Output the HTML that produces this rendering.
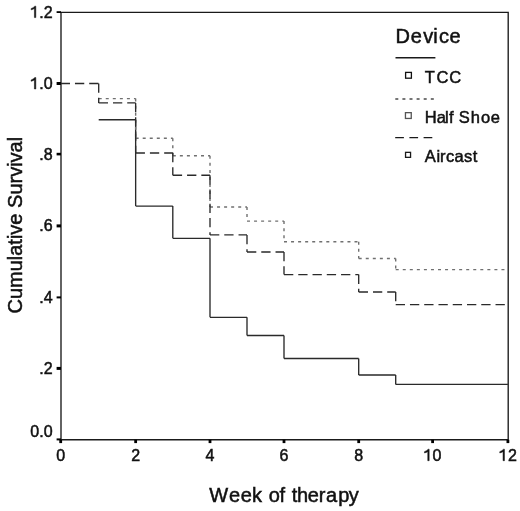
<!DOCTYPE html>
<html><head><meta charset="utf-8"><style>
html,body{margin:0;padding:0;background:#fff;width:520px;height:511px;overflow:hidden}
svg{display:block;filter:grayscale(1)}
text{font-family:"Liberation Sans",sans-serif;fill:#111;stroke:#111;stroke-width:0.5px}
</style></head><body>
<svg width="520" height="511" viewBox="0 0 520 511">
<rect width="520" height="511" fill="#fff"/>
<g fill="none" stroke="#1a1a1a" stroke-width="1.35"><path d="M61.0,12.4H508.2V439.7H61.0Z"/></g>
<g stroke="#000">
<line x1="56.6" y1="12.1" x2="61.0" y2="12.1" stroke-width="1.8"/>
<line x1="56.6" y1="83.5" x2="61.0" y2="83.5" stroke-width="3.0"/>
<line x1="56.6" y1="154.1" x2="61.0" y2="154.1" stroke-width="2.6"/>
<line x1="56.6" y1="225.9" x2="61.0" y2="225.9" stroke-width="3.0"/>
<line x1="56.6" y1="297.4" x2="61.0" y2="297.4" stroke-width="2.0"/>
<line x1="56.6" y1="368.4" x2="61.0" y2="368.4" stroke-width="3.0"/>
<line x1="56.6" y1="439.4" x2="61.0" y2="439.4" stroke-width="2.0"/>
</g>
<g stroke="#000" stroke-width="2.8">
<line x1="60.70" y1="439.7" x2="60.70" y2="443.1"/>
<line x1="135.65" y1="439.7" x2="135.65" y2="443.1"/>
<line x1="210.00" y1="439.7" x2="210.00" y2="443.1"/>
<line x1="284.00" y1="439.7" x2="284.00" y2="443.1"/>
<line x1="358.70" y1="439.7" x2="358.70" y2="443.1"/>
<line x1="432.60" y1="439.7" x2="432.60" y2="443.1"/>
<line x1="507.90" y1="439.7" x2="507.90" y2="443.1"/>
</g>
<g font-size="16" fill="#111">
<path transform="translate(30.36,17.60) scale(0.007812,-0.007812)" stroke="#111" stroke-width="64.0" d="M699,0L519,0L519,1160C430,1100 250,1040 100,990L100,1160C260,1220 470,1340 575,1466L699,1466Z"/><text x="39.26" y="17.60">.</text><text x="43.70" y="17.60">2</text>
<path transform="translate(30.36,89.00) scale(0.007812,-0.007812)" stroke="#111" stroke-width="64.0" d="M699,0L519,0L519,1160C430,1100 250,1040 100,990L100,1160C260,1220 470,1340 575,1466L699,1466Z"/><text x="39.26" y="89.00">.</text><text x="43.70" y="89.00">0</text>
<text x="39.26" y="159.60">.</text><text x="43.70" y="159.60">8</text>
<text x="39.26" y="231.40">.</text><text x="43.70" y="231.40">6</text>
<text x="39.26" y="302.90">.</text><text x="43.70" y="302.90">4</text>
<text x="39.26" y="373.90">.</text><text x="43.70" y="373.90">2</text>
<text x="30.36" y="436.60">0</text><text x="39.26" y="436.60">.</text><text x="43.70" y="436.60">0</text>
<text x="56.25" y="460.70">0</text>
<text x="131.20" y="460.70">2</text>
<text x="205.55" y="460.70">4</text>
<text x="279.55" y="460.70">6</text>
<text x="354.25" y="460.70">8</text>
<path transform="translate(423.70,460.70) scale(0.007812,-0.007812)" stroke="#111" stroke-width="64.0" d="M699,0L519,0L519,1160C430,1100 250,1040 100,990L100,1160C260,1220 470,1340 575,1466L699,1466Z"/><text x="432.60" y="460.70">0</text>
<path transform="translate(499.00,460.70) scale(0.007812,-0.007812)" stroke="#111" stroke-width="64.0" d="M699,0L519,0L519,1160C430,1100 250,1040 100,990L100,1160C260,1220 470,1340 575,1466L699,1466Z"/><text x="507.90" y="460.70">2</text>
</g>
<text y="501.7" font-size="20" x="209.30 228.95 240.85 252.05 262.50 268.86 279.42 285.50 291.80 296.91 307.85 318.67 325.95 338.31 348.85">Week of therapy</text>
<text transform="translate(21.7,225.2) rotate(-90)" font-size="20" text-anchor="middle">Cumulative Survival</text>
<g fill="none" stroke-width="1.4">
<path d="M98.70,119.70H135.65M135.65,119.70V206.10M135.65,206.10H172.80M172.80,206.10V238.30M172.80,238.30H210.00M210.00,238.30V317.30M210.00,317.30H247.00M247.00,317.30V335.50M247.00,335.50H284.00M284.00,335.50V358.50M284.00,358.50H358.70M358.70,358.50V375.00M358.70,375.00H395.70M395.70,375.00V384.40M395.70,384.40H507.90" stroke="#2a2a2a" stroke-width="1.35"/>
<path d="M98.70,98.60H135.65M135.65,98.60V138.30M135.65,138.30H172.80M172.80,138.30V155.80M172.80,155.80H210.00M210.00,155.80V207.00M210.00,207.00H247.00M247.00,207.00V221.10M247.00,221.10H284.00M284.00,221.10V241.80M284.00,241.80H358.70M358.70,241.80V258.50M358.70,258.50H395.70M395.70,258.50V269.60M395.70,269.60H507.90" stroke="#707070" stroke-width="1.4" stroke-dasharray="3 4.05"/>
<path d="M60.70,83.50H98.70M98.70,83.50V102.90M98.70,102.90H135.65M135.65,102.90V153.00M135.65,153.00H172.80M172.80,153.00V175.20M172.80,175.20H210.00M210.00,175.20V234.90M210.00,234.90H247.00M247.00,234.90V252.00M247.00,252.00H284.00M284.00,252.00V274.60M284.00,274.60H358.70M358.70,274.60V292.00M358.70,292.00H395.70M395.70,292.00V304.60M395.70,304.60H507.90" stroke="#2a2a2a" stroke-width="1.35" stroke-dasharray="9.3 4.96"/>
</g>
<text x="395.46 410.85 423.13 433.16 438.95 449.45" y="42.5" font-size="20">Device</text>
<g fill="none" stroke-width="1.4">
<line x1="395.5" y1="57.7" x2="435.4" y2="57.7" stroke="#1a1a1a"/>
<line x1="395.3" y1="99.1" x2="435.4" y2="99.1" stroke="#4a4a4a" stroke-width="1.5" stroke-dasharray="3 4.1"/>
<line x1="395.2" y1="137.6" x2="435.4" y2="137.6" stroke="#1a1a1a" stroke-dasharray="8.7 5.5"/>
</g>
<g fill="#fff" stroke-width="1.3">
<rect x="405.6" y="72.4" width="5.8" height="5.8" stroke="#111"/>
<rect x="405.45" y="112.65" width="5.8" height="5.8" stroke="#555"/>
<rect x="405.55" y="152.35" width="5.0" height="5.0" stroke="#1a1a1a"/>
</g>
<g font-size="16.5">
<text x="424.83 436.46 449.16" y="83">TCC</text>
<text x="424.75 436.8 445.09 449.07 454 458.65 470.76 481.01 490.7" y="123.2">Half Shoe</text>
<text x="424.77 436.4 439.9 446.1 454.4 463.94 472.85" y="162.4">Aircast</text>
</g>
</svg>
</body></html>
